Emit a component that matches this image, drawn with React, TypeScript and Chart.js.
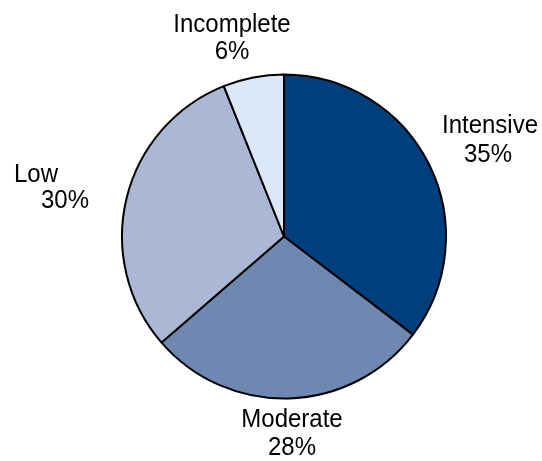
import React, { useEffect, useRef } from "react";
import { Chart, registerables } from "chart.js";

Chart.register(...registerables);

const categories = ["Intensive", "Moderate", "Low", "Incomplete"];
const values = [35, 28, 30, 6];
const percentLabels = ["35%", "28%", "30%", "6%"];
const colors = ["#003F7E", "#6F88B2", "#AAB8D6", "#DCE8F8"];

// label line offsets from pie centre (pixels): [dx, dyBaseline] per line
const labelOffsets: [number, number][][] = [
  [[206, -104], [204, -75]],
  [[8, 190], [8, 218]],
  [[-248, -55], [-219, -29]],
  [[-52, -205], [-52, -178]],
];

const labelPlugin = {
  id: "outerLabels",
  afterDraw(chart: any) {
    const meta = chart.getDatasetMeta(0);
    const arc = meta.data[0];
    if (!arc) return;
    const cx = arc.x;
    const cy = arc.y;
    const ctx = chart.ctx;
    ctx.save();
    ctx.fillStyle = "#000000";
    ctx.font = '24px "Liberation Sans", Arial, sans-serif';
    ctx.textAlign = "center";
    ctx.textBaseline = "alphabetic";
    categories.forEach((name, i) => {
      const lines = [name, percentLabels[i]];
      lines.forEach((t, j) => {
        const [dx, dy] = labelOffsets[i][j];
        ctx.save();
        ctx.translate(cx + dx, cy + dy);
        ctx.scale(1, 1.1);
        ctx.fillText(t, 0, 0);
        ctx.restore();
      });
    });
    ctx.restore();
  },
};

export default function App() {
  const ref = useRef<HTMLCanvasElement>(null);
  useEffect(() => {
    if (!ref.current) return;
    const chart = new Chart(ref.current, {
      type: "pie",
      data: {
        labels: categories,
        datasets: [
          {
            data: values,
            backgroundColor: colors,
            borderColor: "#000000",
            borderWidth: 2,
          },
        ],
      },
      options: {
        responsive: false,
        animation: false,
        layout: { padding: { left: 121, right: 95, top: 73, bottom: 61 } },
        plugins: {
          legend: { display: false },
          tooltip: { enabled: false },
        },
      },
      plugins: [labelPlugin],
    });
    return () => chart.destroy();
  }, []);
  return (
    <div style={{ position: "absolute", left: 0, top: 0, width: 542, height: 461, background: "#fff" }}>
      <canvas ref={ref} width={542} height={461} />
    </div>
  );
}
